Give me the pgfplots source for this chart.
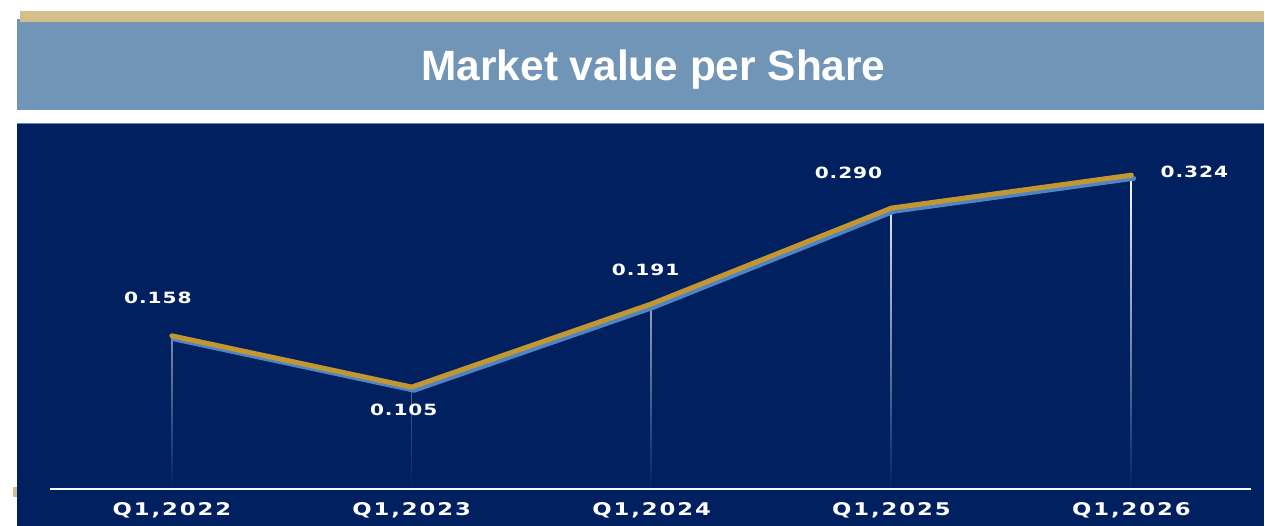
\documentclass[border=0pt]{standalone}
\usepackage{pgfplots}
\pgfplotsset{compat=1.18}
\usepackage{pgfplotstable}
\usepackage{fontspec}
\setmainfont{Liberation Sans}
\newfontfamily\catfont[FakeStretch=1.3,LetterSpace=11]{DejaVu Sans}
\newfontfamily\valfont[FakeStretch=1.3,LetterSpace=6]{DejaVu Sans}
\usetikzlibrary{fadings}
\tikzfading[name=combfade, top color=transparent!0, middle color=transparent!15, bottom color=transparent!100]
\definecolor{navy}{RGB}{0,32,96}
\definecolor{titlebox}{RGB}{112,149,182}
\definecolor{tan}{RGB}{212,190,140}
\definecolor{gold}{RGB}{194,151,50}
\definecolor{shadowblue}{RGB}{79,133,196}
\definecolor{edgeblue}{RGB}{90,135,190}
\pgfplotstableread{
x y dx dy lab
0 0.158 -7 19 0.158
1 0.105 -4 -11.5 0.105
2 0.191 -3 17 0.191
3 0.290 -21.5 17.5 0.290
4 0.324 31.5 1.5 0.324
}\datatable
\begin{document}
\begin{tikzpicture}
% backgrounds (1px = 0.5pt)
\fill[white] (0,0) rectangle (632.5pt,263pt);
\fill[navy] (8.5pt,0) rectangle (632.5pt,201.5pt);
\draw[edgeblue, line width=0.75pt] (8.5pt,201.3pt) -- (632.5pt,201.3pt);
\fill[titlebox] (8.5pt,208pt) rectangle (632.5pt,253.5pt);
\fill[tan] (10pt,252pt) rectangle (632.5pt,257.5pt);
\fill[tan] (6.5pt,14.5pt) rectangle (8.5pt,19.5pt);
\node[white, font=\fontsize{21.2}{26}\selectfont\bfseries, anchor=base, inner sep=0pt] at (327pt,222.5pt) {Market value per Share};
\begin{axis}[
  at={(25pt,18.5pt)}, anchor=south west,
  scale only axis, width=601pt, height=183pt,
  xmin=-0.508, xmax=4.5, ymin=0, ymax=0.378,
  clip=false,
  axis x line*=bottom, hide y axis,
  axis line style={white, line width=1pt},
  xtick={0,1,2,3,4},
  xticklabels={{Q1,2022},{Q1,2023},{Q1,2024},{Q1,2025},{Q1,2026}},
  major tick length=0pt,
  xticklabel style={anchor=center, yshift=-11pt, text=white, font=\catfont\fontsize{8.75}{10}\selectfont\bfseries},
]
\addplot[ycomb, draw=white, line width=0.9pt, path fading=combfade, mark=none] table[x=x,y=y]{\datatable};
\addplot[color=shadowblue, line width=2.4pt, line cap=round, line join=round, mark=none, xshift=1.2pt, yshift=-1.6pt] table[x=x,y=y]{\datatable};
\addplot[color=gold, line width=2.5pt, line cap=round, line join=round, mark=none,
  visualization depends on={\thisrow{dx} \as \dx},
  visualization depends on={\thisrow{dy} \as \dy},
  nodes near coords, point meta=explicit symbolic,
  every node near coord/.append style={anchor=center, xshift=\dx pt, yshift=\dy pt, text=white, font=\valfont\fontsize{7.75}{9}\selectfont\bfseries, inner sep=0pt},
] table[x=x,y=y,meta=lab]{\datatable};
\end{axis}
\end{tikzpicture}
\end{document}
